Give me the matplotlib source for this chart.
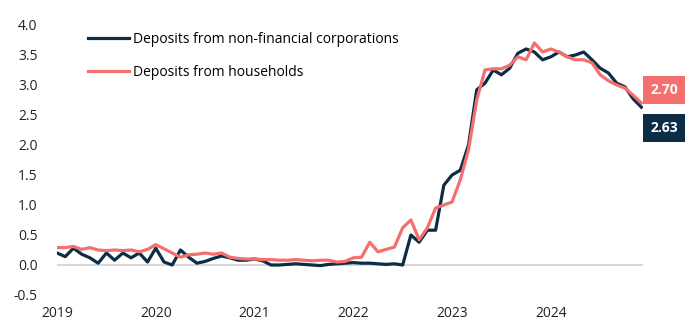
import matplotlib.pyplot as plt
import numpy as np

# monthly rates, Jan 2019 - Dec 2024
years = ['2019', '2020', '2021', '2022', '2023', '2024']

nfc = [0.20, 0.14, 0.28, 0.18, 0.12, 0.03, 0.20, 0.08, 0.20, 0.12, 0.20, 0.05,
       0.28, 0.05, 0.00, 0.25, 0.13, 0.03, 0.06, 0.11, 0.15, 0.12, 0.08, 0.08,
       0.10, 0.07, 0.00, 0.00, 0.01, 0.02, 0.01, 0.00, -0.01, 0.01, 0.02, 0.03,
       0.04, 0.03, 0.03, 0.02, 0.01, 0.02, 0.00, 0.50, 0.38, 0.58, 0.58, 1.33,
       1.50, 1.58, 2.00, 2.92, 3.03, 3.25, 3.17, 3.28, 3.53, 3.60, 3.55, 3.42,
       3.47, 3.55, 3.47, 3.50, 3.55, 3.42, 3.28, 3.20, 3.03, 2.97, 2.77, 2.63]

households = [0.29, 0.29, 0.31, 0.26, 0.29, 0.25, 0.24, 0.25, 0.24, 0.25, 0.22, 0.26,
              0.34, 0.27, 0.20, 0.13, 0.17, 0.18, 0.20, 0.18, 0.20, 0.13, 0.11, 0.10,
              0.10, 0.09, 0.09, 0.08, 0.08, 0.09, 0.08, 0.07, 0.08, 0.08, 0.05, 0.06,
              0.12, 0.13, 0.38, 0.22, 0.26, 0.30, 0.62, 0.75, 0.42, 0.62, 0.95, 1.00,
              1.05, 1.42, 1.92, 2.75, 3.25, 3.27, 3.27, 3.33, 3.47, 3.42, 3.70, 3.55,
              3.60, 3.55, 3.47, 3.42, 3.42, 3.37, 3.17, 3.07, 3.00, 2.95, 2.83, 2.70]

dark = '#0b2d45'
pink = '#f46f6e'

months = np.arange(len(nfc))

fig = plt.figure(figsize=(6.95, 3.23), dpi=100)
ax = fig.add_axes([57/695, 1 - 295/323, (643 - 57)/695, (295 - 25)/323])

ax.axhline(0, color='#d9d9d9', lw=1.5, zorder=1)
ax.plot(months, nfc, color=dark, lw=2.3, label='Deposits from non-financial corporations', zorder=3)
ax.plot(months, households, color=pink, lw=2.3, label='Deposits from households', zorder=4)

ax.set_xlim(0, 71.2)
ax.set_ylim(-0.5, 4.0)
ax.set_yticks(np.arange(-0.5, 4.01, 0.5))
ax.set_yticklabels(['%.1f' % v for v in np.arange(-0.5, 4.01, 0.5)])
ax.set_xticks(np.arange(0, 72, 12))
ax.set_xticklabels(years)

for s in ax.spines.values():
    s.set_visible(False)
ax.tick_params(length=0, labelsize=10, colors='#222222')
ax.tick_params(axis='y', pad=14)
ax.tick_params(axis='x', pad=8)
for lab in ax.get_xticklabels() + ax.get_yticklabels():
    lab.set_fontfamily('Open Sans')

leg = ax.legend(loc='upper left', bbox_to_anchor=(0.032, 1.02), frameon=False,
                prop={'family': 'Open Sans', 'size': 10}, handlelength=2.9,
                handletextpad=0.3, labelspacing=1.3)

# end-of-series value boxes
ax.text(72.1, 2.92, '%.2f' % households[-1], ha='left', va='center', color='white',
        fontsize=10, fontweight='bold', family='Open Sans', clip_on=False,
        bbox=dict(boxstyle='square,pad=0.5', fc=pink, ec='none'))
ax.text(72.1, 2.28, '%.2f' % nfc[-1], ha='left', va='center', color='white',
        fontsize=10, fontweight='bold', family='Open Sans', clip_on=False,
        bbox=dict(boxstyle='square,pad=0.5', fc=dark, ec='none'))

plt.savefig('out.png', dpi=100)
